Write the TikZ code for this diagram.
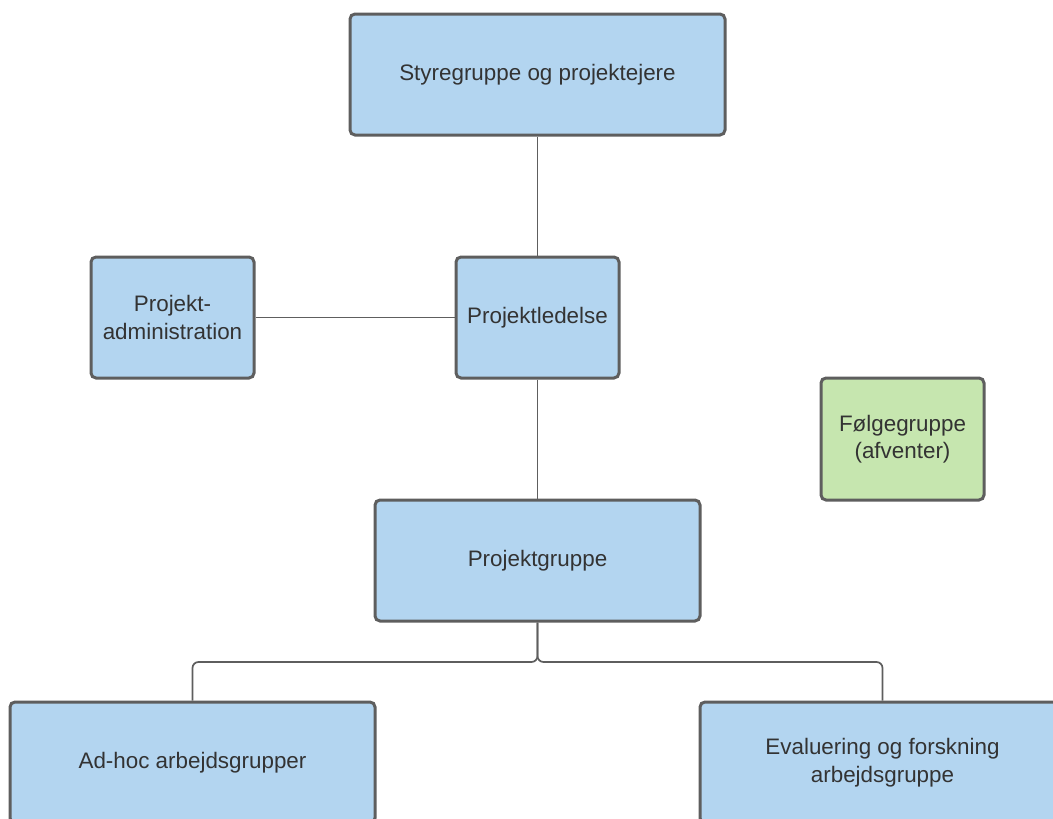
\documentclass[tikz,border=0pt]{standalone}
\usepackage{fontspec}
\setmainfont{Liberation Sans}
\definecolor{boxblue}{HTML}{B3D5F0}
\definecolor{boxgreen}{HTML}{C6E6AF}
\definecolor{edge}{HTML}{5E5E5E}
\definecolor{txt}{HTML}{333333}
\tikzset{
  box/.style={draw=edge, line width=3pt, rounded corners=5pt, fill=boxblue,
    text=txt, align=center, font=\fontsize{22.4}{27.5}\selectfont, inner sep=0pt},
  greenbox/.style={box, fill=boxgreen},
  conn/.style={draw=edge, line width=1.7pt},
}
\begin{document}
\begin{tikzpicture}[x=1pt, y=-1pt]
\useasboundingbox (0,0) rectangle (1053,819);
\clip (0,0) rectangle (1053,819);
\node[box, minimum width=375pt, minimum height=121pt] (sty) at (537.5,74.5) {Styregruppe og projektejere};
\node[box, minimum width=163pt, minimum height=121pt] (adm) at (172.5,317.5) {Projekt-\\administration};
\node[box, minimum width=163pt, minimum height=121pt] (led) at (537.5,317.5) {Projektledelse};
\node[greenbox, minimum width=163pt, minimum height=122pt] (flg) at (902.5,439) {Følgegruppe\\(afventer)};
\node[box, minimum width=325pt, minimum height=121pt] (grp) at (537.5,560.5) {Projektgruppe};
\node[box, minimum width=365pt, minimum height=121pt] (adh) at (192.5,762.5) {Ad-hoc arbejdsgrupper};
\node[box, minimum width=365pt, minimum height=121pt] (evl) at (882.5,762.5) {Evaluering og forskning\\arbejdsgruppe};
\coordinate (bus) at (537.5,662);
\draw[conn] (sty) -- (led);
\draw[conn] (adm) -- (led);
\draw[conn] (led) -- (grp);
\draw[conn, rounded corners=6pt] (grp.south) -- (bus) -| (adh.north);
\draw[conn, rounded corners=6pt] (grp.south) -- (bus) -| (evl.north);
\end{tikzpicture}
\end{document}
